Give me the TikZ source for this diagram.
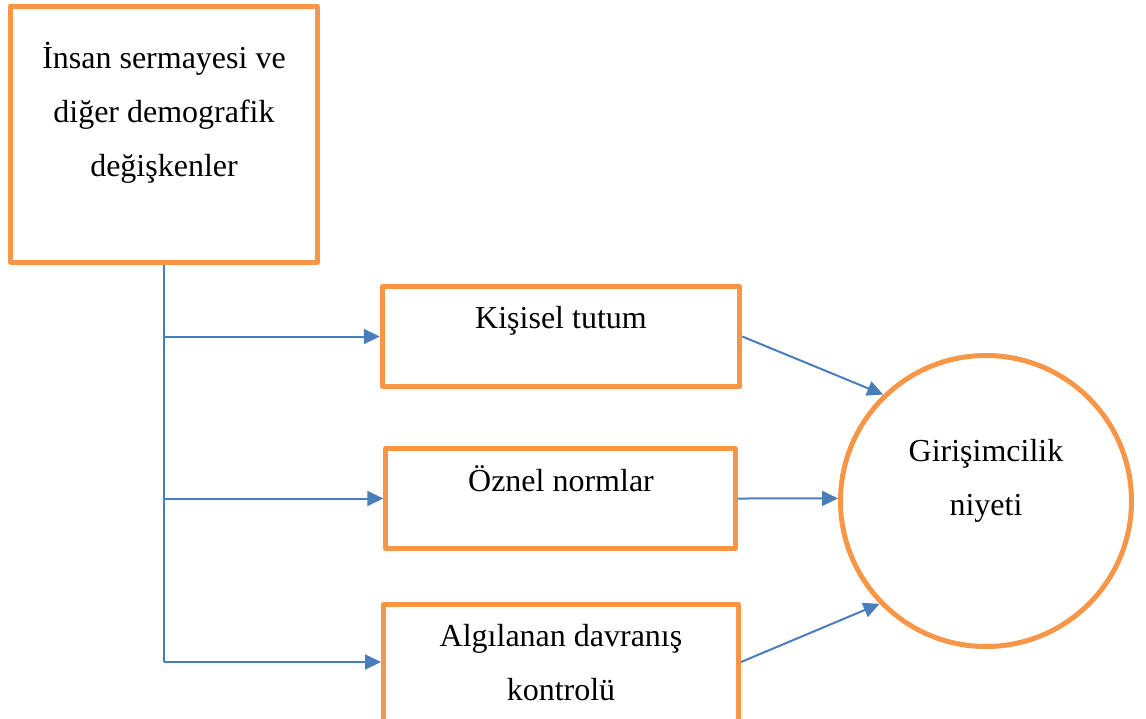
\documentclass[tikz,border=0pt]{standalone}
\usepackage{fontspec}
\setmainfont{Liberation Serif}
\usetikzlibrary{arrows.meta}
\definecolor{boxorange}{HTML}{F79646}
\definecolor{linkblue}{HTML}{4A7EBB}
\begin{document}
\begin{tikzpicture}[x=1pt,y=-1pt,
  box/.style={draw=boxorange,line width=5pt,rectangle,inner sep=0pt,line join=round},
  circ/.style={draw=boxorange,line width=5pt,circle,inner sep=0pt},
  txt/.style={font=\fontsize{32}{54}\selectfont,align=center,anchor=base,inner sep=0pt},
  link/.style={draw=linkblue,line width=2pt},
  arr/.style={link,-{Triangle[length=16pt,width=15pt]}}]
\useasboundingbox (0,0) rectangle (1146,718);
% boxes
\node[box,minimum width=307pt,minimum height=255.5pt] (b1) at (164,134.25) {};
\node[box,minimum width=357.5pt,minimum height=100.5pt] (b2) at (561,336.5) {};
\node[box,minimum width=349.5pt,minimum height=99.5pt] (b3) at (560.5,498.5) {};
\node[box,minimum width=355pt,minimum height=119pt] (b4) at (561,664) {};
\node[circ,minimum size=291pt] (c) at (986,501) {};
% texts (base = baseline of last line)
\node[txt] (t1) at (164,176) {İnsan sermayesi ve\\diğer demografik\\değişkenler};
\node[txt] (t2) at (561,328) {Kişisel tutum};
\node[txt] (t3) at (561,491) {Öznel normlar};
\node[txt] (t4) at (561,700) {Algılanan davranış\\kontrolü};
\node[txt] (t5) at (986,515) {Girişimcilik\\niyeti};
% connectors
\coordinate (j2) at (b1.south |- b2.west);
\coordinate (j3) at (b1.south |- b3.west);
\coordinate (j4) at ([yshift=2pt]b1.south |- b4.west);
\draw[link] (b1.south) -- (j4);
\draw[arr] (j2) -- (b2.west);
\draw[arr] (j3) -- (b3.west);
\draw[arr] (j4) -- ([yshift=2pt]b4.west);
\draw[arr] (b2.east) -- (c.134);
\draw[arr] (b3.east) -- (c.179.6);
\draw[arr] ([yshift=2pt]b4.east) -- (c.224.5);
\end{tikzpicture}
\end{document}
